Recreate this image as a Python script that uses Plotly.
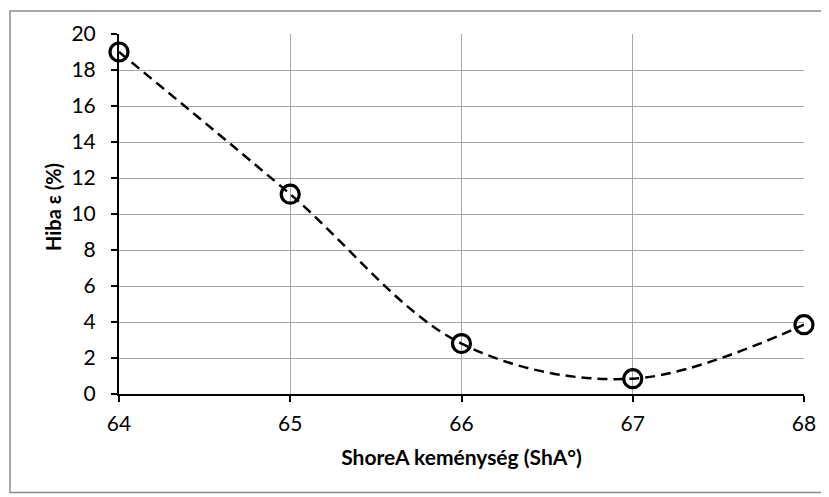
import plotly.graph_objects as go

hardness = [64, 65, 66, 67, 68]
error_pct = [19.0, 11.1, 2.8, 0.85, 3.85]
y_ticks = [0, 2, 4, 6, 8, 10, 12, 14, 16, 18, 20]
x_ticks = [64, 65, 66, 67, 68]
x_title = "ShoreA keménység (ShA°)"
y_title = "Hiba ε (%)"

font_family = "Lato, 'Open Sans', sans-serif"

# page has an 8px body margin; compensate so the plot area lands where the reference has it
W, H = 821, 489
L, R, T, B = 111, 25, 24, 103
pw, ph = W - L - R, H - T - B

fig = go.Figure()
fig.add_trace(go.Scatter(
    x=hardness, y=error_pct,
    mode="lines+markers",
    line=dict(color="black", width=2.5, dash="10px,6px", shape="spline", smoothing=1.0),
    marker=dict(symbol="circle-open", size=18, color="black", line=dict(width=3.2, color="black")),
    showlegend=False,
    cliponaxis=False,
))

fig.update_layout(
    width=W, height=H,
    margin=dict(l=L, r=R, t=T, b=B),
    paper_bgcolor="white", plot_bgcolor="white",
    font=dict(family=font_family, color="black", size=21),
    xaxis=dict(
        range=[64, 68], tickvals=x_ticks, ticktext=[str(v) for v in x_ticks],
        showgrid=True, gridcolor="#a6a6a6", gridwidth=1,
        showline=True, linecolor="black", linewidth=2,
        ticks="outside", ticklen=6, tickwidth=2, tickcolor="black",
        ticklabelstandoff=4,
        zeroline=False,
        title=dict(text="<b>" + x_title + "</b>", font=dict(size=21), standoff=16),
    ),
    yaxis=dict(
        range=[0, 20], tickvals=y_ticks,
        showgrid=True, gridcolor="#a6a6a6", gridwidth=1,
        showline=True, linecolor="black", linewidth=2,
        ticks="outside", ticklen=6, tickwidth=2, tickcolor="black",
        ticklabelstandoff=11,
        zeroline=False,
    ),
    annotations=[dict(text="<b>" + y_title + "</b>", xref="paper", yref="paper",
                      x=(45 - L) / pw, y=(H - B - 198) / ph,
                      xanchor="center", yanchor="middle", textangle=-90,
                      showarrow=False, font=dict(size=20))],
    shapes=[dict(type="rect", xref="paper", yref="paper",
                 x0=(2 - L) / pw, x1=(818 - L) / pw,
                 y0=(H - B - 485) / ph, y1=(H - B - 0.75) / ph,
                 line=dict(color="#8c8c8c", width=1.5), layer="below")],
)

fig.write_html("out.html")
